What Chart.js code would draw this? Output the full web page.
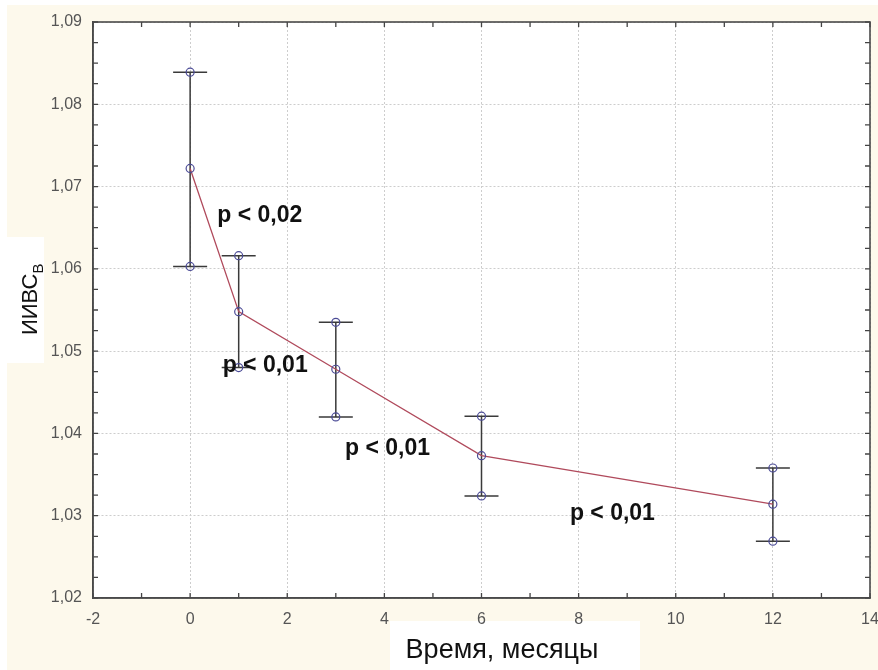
<!DOCTYPE html>
<html>
<head>
<meta charset="utf-8">
<script src="https://cdn.jsdelivr.net/npm/chart.js@4.4.0/dist/chart.umd.min.js"></script>
<style>
  html, body { margin: 0; padding: 0; background: #fff; }
</style>
</head>
<body>
<canvas id="iivsChart" width="878" height="670"></canvas>
<script>
// months after start, mean ИИВС_В and interval bounds
const months = [0, 1, 3, 6, 12];
const meanValues = [1.0722, 1.0548, 1.0478, 1.0373, 1.0314];
const upperValues = [1.0839, 1.0616, 1.0535, 1.0421, 1.0358];
const lowerValues = [1.0603, 1.0480, 1.0420, 1.0324, 1.0269];

const xTickLabels = ['-2', '0', '2', '4', '6', '8', '10', '12', '14'];
const yTickLabels = ['1,02', '1,03', '1,04', '1,05', '1,06', '1,07', '1,08', '1,09'];

// significance notes, anchored in data units (left edge, vertical middle)
const pLabels = ['p < 0,02', 'p < 0,01', 'p < 0,01', 'p < 0,01'];
const pLabelX = [0.56, 0.67, 3.19, 7.82];
const pLabelY = [1.0665, 1.0482, 1.0382, 1.0303];

const FONT = "'Liberation Sans', Arial, sans-serif";
const pointStyle = {
    pointRadius: 4,
    pointBorderColor: '#4b4b96',
    pointBackgroundColor: 'rgba(255,255,255,0)',
    pointBorderWidth: 1.2
};

function isMajorY(v) {
    return Math.abs(v * 100 - Math.round(v * 100)) < 1e-6;
}

const paintPlugin = {
    id: 'paint',
    beforeDraw(chart) {
        const { ctx, chartArea: a } = chart;
        ctx.save();
        ctx.fillStyle = '#ffffff';
        ctx.fillRect(0, 0, chart.width, chart.height);
        ctx.fillStyle = '#fdf9ec';
        ctx.fillRect(7, 5, chart.width - 7, chart.height - 5);
        ctx.fillStyle = '#ffffff';
        ctx.fillRect(a.left, a.top, a.right - a.left, a.bottom - a.top);
        // white patches behind the axis titles
        ctx.fillRect(0, 237, 44, 126);
        ctx.fillRect(390, 621, 250, 49);
        ctx.restore();
    },
    beforeDatasetsDraw(chart) {
        const { ctx } = chart;
        const xs = chart.scales.x, ys = chart.scales.y;
        ctx.save();
        ctx.strokeStyle = '#3a3a3a';
        ctx.lineWidth = 1.5;
        months.forEach((m, i) => {
            const px = xs.getPixelForValue(m);
            const top = ys.getPixelForValue(upperValues[i]);
            const bot = ys.getPixelForValue(lowerValues[i]);
            ctx.beginPath();
            ctx.moveTo(px, top); ctx.lineTo(px, bot);
            ctx.moveTo(px - 17, top); ctx.lineTo(px + 17, top);
            ctx.moveTo(px - 17, bot); ctx.lineTo(px + 17, bot);
            ctx.stroke();
        });
        ctx.restore();
    },
    afterDatasetsDraw(chart) {
        const { ctx } = chart;
        const xs = chart.scales.x, ys = chart.scales.y;
        ctx.save();
        ctx.fillStyle = '#111';
        ctx.font = 'bold 23px ' + FONT;
        ctx.textAlign = 'left';
        ctx.textBaseline = 'middle';
        pLabels.forEach((t, i) => {
            ctx.fillText(t, xs.getPixelForValue(pLabelX[i]), ys.getPixelForValue(pLabelY[i]));
        });
        ctx.restore();
    },
    afterDraw(chart) {
        const { ctx, chartArea: a } = chart;
        const xs = chart.scales.x, ys = chart.scales.y;
        ctx.save();
        // inward tick marks on all four sides
        ctx.strokeStyle = '#444';
        ctx.lineWidth = 1.3;
        ctx.beginPath();
        xs.ticks.forEach(t => {
            const px = xs.getPixelForValue(t.value);
            ctx.moveTo(px, a.bottom); ctx.lineTo(px, a.bottom - 5);
            ctx.moveTo(px, a.top); ctx.lineTo(px, a.top + 5);
        });
        ys.ticks.forEach(t => {
            const py = ys.getPixelForValue(t.value);
            ctx.moveTo(a.left, py); ctx.lineTo(a.left + 5, py);
            ctx.moveTo(a.right, py); ctx.lineTo(a.right - 5, py);
        });
        ctx.stroke();
        ctx.lineWidth = 1.6;
        ctx.strokeStyle = '#4a4a4a';
        ctx.strokeRect(a.left, a.top, a.right - a.left, a.bottom - a.top);

        // axis titles
        ctx.fillStyle = '#111';
        ctx.font = '27px ' + FONT;
        ctx.textAlign = 'center';
        ctx.textBaseline = 'middle';
        ctx.fillText('Время, месяцы', 502, 651);

        ctx.translate(29, 335);
        ctx.rotate(-Math.PI / 2);
        ctx.textAlign = 'left';
        ctx.textBaseline = 'alphabetic';
        ctx.font = '22px ' + FONT;
        ctx.fillText('ИИВС', 0, 8);
        const w = ctx.measureText('ИИВС').width;
        ctx.font = '15px ' + FONT;
        ctx.fillText('В', w, 14);
        ctx.restore();
    }
};

const ctx = document.getElementById('iivsChart').getContext('2d');
const iivsChart = new Chart(ctx, {
    type: 'scatter',
    data: {
        datasets: [
            {
                label: 'mean',
                data: months.map((m, i) => ({ x: m, y: meanValues[i] })),
                showLine: true,
                borderColor: '#b04a5c',
                borderWidth: 1.3,
                tension: 0,
                ...pointStyle
            },
            {
                label: 'upper',
                data: months.map((m, i) => ({ x: m, y: upperValues[i] })),
                showLine: false,
                ...pointStyle
            },
            {
                label: 'lower',
                data: months.map((m, i) => ({ x: m, y: lowerValues[i] })),
                showLine: false,
                ...pointStyle
            }
        ]
    },
    options: {
        responsive: false,
        animation: false,
        devicePixelRatio: 1,
        layout: { padding: { top: 22, right: 8, left: 0, bottom: 0 } },
        plugins: {
            legend: { display: false },
            tooltip: { enabled: false }
        },
        scales: {
            x: {
                type: 'linear',
                min: -2,
                max: 14,
                afterFit(scale) {
                    scale.height = 72;
                    scale.paddingLeft = 0;
                    scale.paddingRight = 0;
                },
                ticks: {
                    stepSize: 1,
                    autoSkip: false,
                    maxRotation: 0,
                    padding: 12,
                    color: '#555',
                    font: { family: FONT, size: 16 },
                    callback: v => (v % 2 === 0 ? xTickLabels[(v + 2) / 2] : '')
                },
                grid: {
                    drawTicks: false,
                    color: c => (c.tick && c.tick.value % 2 === 0 ? '#cdcdcd' : 'rgba(0,0,0,0)'),
                    lineWidth: 1
                },
                border: { display: true, color: '#4a4a4a', width: 1.5, dash: [2, 2] }
            },
            y: {
                type: 'linear',
                min: 1.02,
                max: 1.09,
                afterFit(scale) {
                    scale.width = 93;
                    scale.paddingTop = 0;
                    scale.paddingBottom = 0;
                },
                ticks: {
                    stepSize: 0.0025,
                    autoSkip: false,
                    padding: 11,
                    color: '#555',
                    font: { family: FONT, size: 16 },
                    callback: v => (isMajorY(v) ? yTickLabels[Math.round((v - 1.02) * 100)] : '')
                },
                grid: {
                    drawTicks: false,
                    color: c => (c.tick && isMajorY(c.tick.value) ? '#cdcdcd' : 'rgba(0,0,0,0)'),
                    lineWidth: 1
                },
                border: { display: true, color: '#4a4a4a', width: 1.5, dash: [2, 2] }
            }
        }
    },
    plugins: [paintPlugin]
});
</script>
</body>
</html>
